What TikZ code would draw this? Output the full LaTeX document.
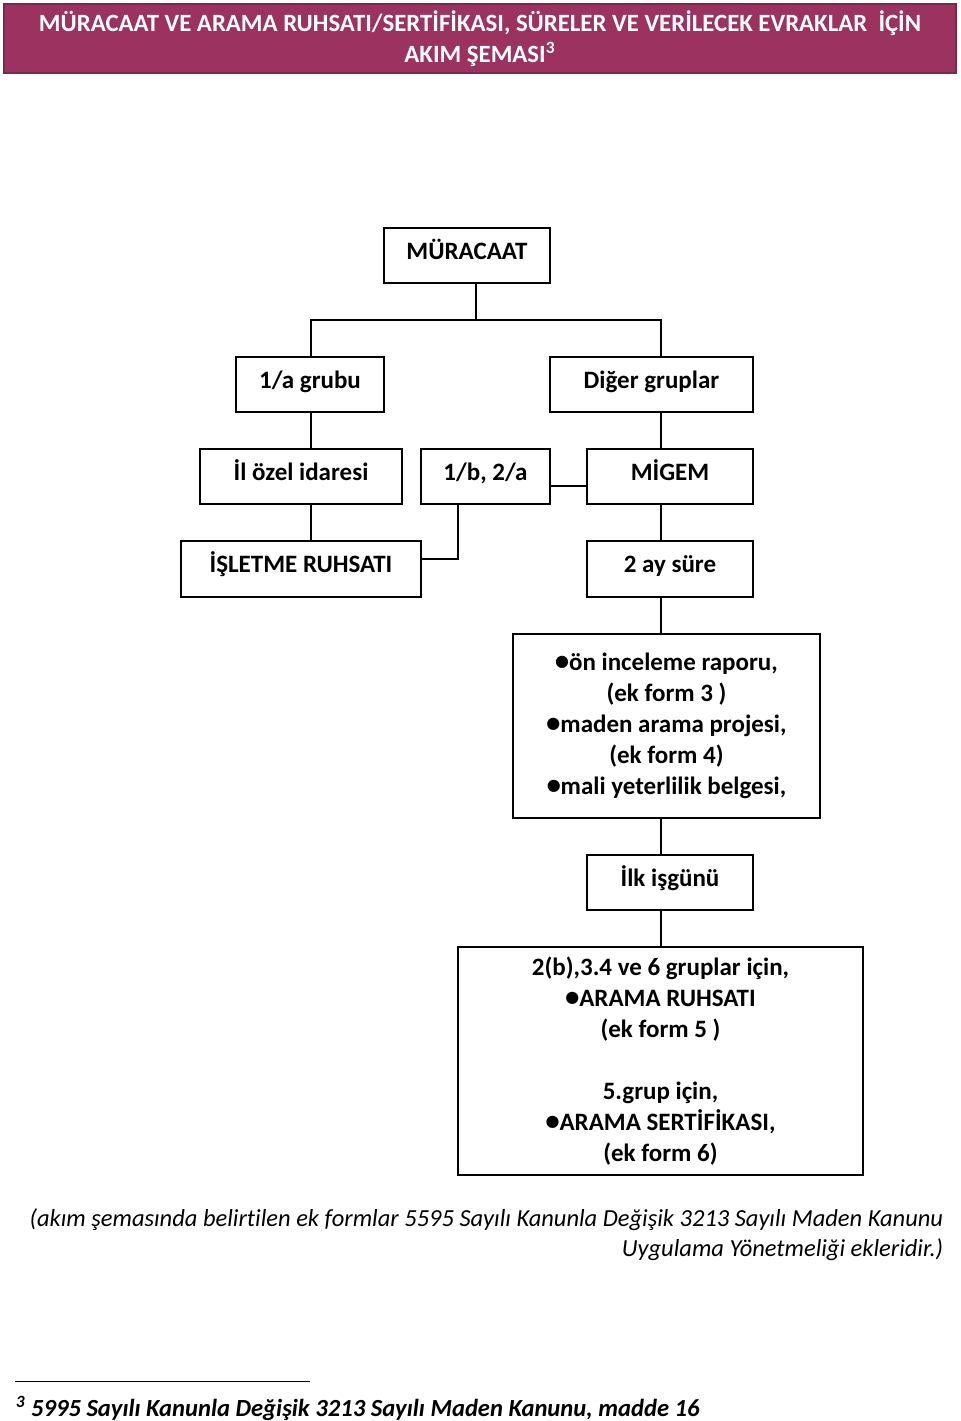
\documentclass[tikz,border=0pt]{standalone}
\usepackage{fontspec}
\setmainfont{Carlito}[Ligatures=CommonOff]
\newfontfamily\symfont{DejaVu Sans}
\usetikzlibrary{shapes,positioning}
\definecolor{headbg}{RGB}{155,50,96}
\newcommand{\blt}{\raisebox{2pt}{\symfont\fontsize{8}{8}\selectfont ●}}

\begin{document}
\begin{tikzpicture}[x=0.5pt,y=-0.5pt,
    font=\bfseries\fontsize{12.5}{15.5}\selectfont,
    line width=0.8pt,
    block/.style={draw, text height=8.5pt, text depth=5pt}]
\useasboundingbox (0,0) rectangle (960,1421);

% Title band
\node[fill=headbg,
    draw=headbg!80!black,
    text=white,
    align=center,
    minimum width=476pt,
    minimum height=32.5pt,
    font=\bfseries\fontsize{12.4}{15.5}\selectfont
] (title) at (480,38.5) {MÜRACAAT VE ARAMA RUHSATI/SERTİFİKASI, SÜRELER VE VERİLECEK EVRAKLAR\ \ İÇİN\\AKIM ŞEMASI\textsuperscript{3}};

% Start block
\node[block,
    minimum width=83pt,
    minimum height=27.5pt] (muracaat) at (467,255.5) {MÜRACAAT};

% Groups
\node[block,
    minimum width=74pt,
    minimum height=27.5pt] (grup1a) at (310,384.5) {1/a grubu};

\node[block,
    minimum width=101.5pt,
    minimum height=27.5pt] (diger) at (651.5,384.5) {Diğer gruplar};

% Offices
\node[block,
    minimum width=101pt,
    minimum height=27.5pt] (ilozel) at (301,476.5) {İl özel idaresi};

\node[block,
    minimum width=64.5pt,
    minimum height=27.5pt] (grup1b) at (485.5,476.5) {1/b, 2/a};

\node[block,
    minimum width=83pt,
    minimum height=27.5pt] (migem) at (670,476.5) {MİGEM};

% Results
\node[block,
    minimum width=120pt,
    minimum height=28pt] (isletme) at (301,569) {İŞLETME RUHSATI};

\node[block,
    minimum width=83pt,
    minimum height=28pt] (ikiay) at (670,569) {2 ay süre};

% Documents
\node[draw,
    align=center,
    minimum width=153.5pt,
    minimum height=92pt] (evrak) at (666.5,726) {\blt ön inceleme raporu,\\(ek form 3 )\\\blt maden arama projesi,\\(ek form 4)\\\blt mali yeterlilik belgesi,};

\node[block,
    minimum width=83pt,
    minimum height=27.5pt] (ilkis) at (670,882.5) {İlk işgünü};

% Return block
\node[draw,
    align=center,
    minimum width=202.5pt,
    minimum height=114pt] (ruhsat) at (660.5,1061) {2(b),3.4 ve 6 gruplar için,\\\blt ARAMA RUHSATI\\(ek form 5 )\\[15.5pt]5.grup için,\\\blt ARAMA SERTİFİKASI,\\(ek form 6)};

% Notes
\node[anchor=north east,
    align=right,
    inner sep=0pt,
    font=\itshape\fontsize{12.25}{15}\selectfont] (note) at (944,1208) {(akım şemasında belirtilen ek formlar 5595 Sayılı Kanunla Değişik 3213 Sayılı Maden Kanunu\\Uygulama Yönetmeliği ekleridir.)};

\coordinate (rulel) at (15,1381);
\coordinate (ruler) at (310,1381);
\draw[line width=0.5pt] (rulel) -- (ruler);

\node[anchor=base west,
    inner sep=0pt,
    font=\bfseries\itshape\fontsize{12.3}{15}\selectfont] (foot) at (15,1416) {\textsuperscript{3} 5995 Sayılı Kanunla Değişik 3213 Sayılı Maden Kanunu, madde 16};

% Lines
\coordinate (fork) at (476,320);
\coordinate (leftx) at (311,0);
\coordinate (spine) at (661,0);
\coordinate (bend) at (458,559);
\coordinate (link) at (0,486);

\draw (muracaat.south -| fork) -- (fork);
\draw (grup1a.north -| leftx) -- (leftx |- fork) -- (spine |- fork) -- (diger.north -| spine);
\draw (grup1a.south -| leftx) -- (ilozel.north -| leftx)
    (ilozel.south -| leftx) -- (isletme.north -| leftx);
\draw (grup1b.south -| bend) |- (isletme.east |- bend);
\draw (grup1b.east |- link) -- (migem.west |- link);
\draw (diger.south -| spine) -- (migem.north -| spine)
    (migem.south -| spine) -- (ikiay.north -| spine)
    (ikiay.south -| spine) -- (evrak.north -| spine)
    (evrak.south -| spine) -- (ilkis.north -| spine)
    (ilkis.south -| spine) -- (ruhsat.north -| spine);

\end{tikzpicture}
\end{document}
